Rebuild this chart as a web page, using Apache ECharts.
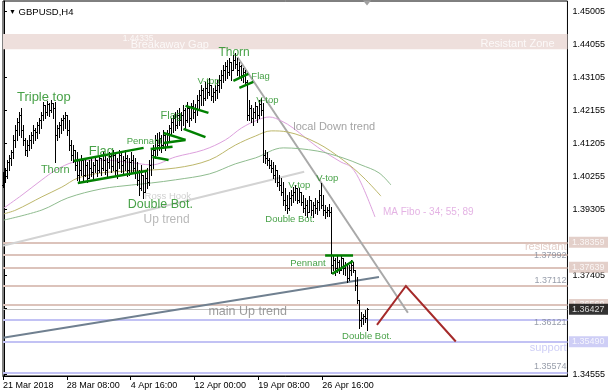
<!DOCTYPE html>
<html><head><meta charset="utf-8">
<script src="https://cdn.jsdelivr.net/npm/echarts@6/dist/echarts.min.js"></script>
<style>html,body{margin:0;padding:0;background:#fff}#c{width:608px;height:391px}</style>
</head><body><div id="c"></div>
<script>
// ---------- OHLC bars (GBPUSD H4) ----------
const barOpen = [
1.4001,1.4030,1.4044,1.4067,1.4079,1.4096,1.4131,1.4160,1.4183,1.4203,
1.4160,1.4131,1.4102,1.4116,1.4131,1.4145,1.4160,1.4154,1.4174,1.4188,
1.4203,1.4232,1.4212,1.4234,1.4217,1.4237,1.4223,1.4145,1.4165,1.4174,
1.4188,1.4194,1.4203,1.4160,1.4116,1.4088,1.4102,1.4059,1.4030,1.4044,
1.4073,1.4030,1.4059,1.4021,1.4050,1.4039,1.4059,1.4073,1.4044,1.4079,
1.4050,1.4073,1.4044,1.4067,1.4085,1.4056,1.4088,1.4044,1.4067,1.4088,
1.4059,1.4073,1.4079,1.4044,1.4067,1.4073,1.4050,1.4039,1.4016,1.3993,
1.4030,1.3981,1.4021,1.4010,1.4059,1.4088,1.4102,1.4131,1.4116,1.4137,
1.4116,1.4145,1.4125,1.4151,1.4165,1.4183,1.4194,1.4174,1.4203,1.4188,
1.4203,1.4217,1.4188,1.4223,1.4194,1.4229,1.4212,1.4223,1.4246,1.4260,
1.4275,1.4252,1.4281,1.4269,1.4289,1.4258,1.4269,1.4275,1.4289,1.4304,
1.4318,1.4332,1.4344,1.4327,1.4355,1.4332,1.4361,1.4350,1.4332,1.4344,
1.4318,1.4327,1.4298,1.4203,1.4223,1.4194,1.4212,1.4229,1.4203,1.4234,
1.4217,1.4088,1.4079,1.4073,1.4059,1.4050,1.4030,1.4044,1.4010,1.4001,
1.3981,1.3958,1.3944,1.3935,1.3964,1.3972,1.3981,1.3993,1.3958,1.3981,
1.3952,1.3935,1.3944,1.3923,1.3958,1.3929,1.3944,1.3935,1.3952,1.3972,
1.3944,1.3929,1.3923,1.3929,1.3923,1.3771,1.3785,1.3762,1.3779,1.3756,
1.3791,1.3762,1.3771,1.3733,1.3756,1.3771,1.3756,1.3713,1.3670,1.3612,
1.3618,1.3624,1.3618];
const barHigh = [
1.4039,1.4050,1.4073,1.4088,1.4102,1.4145,1.4174,1.4194,1.4212,1.4223,
1.4174,1.4137,1.4131,1.4145,1.4154,1.4174,1.4165,1.4183,1.4194,1.4212,
1.4240,1.4232,1.4243,1.4237,1.4246,1.4237,1.4240,1.4174,1.4183,1.4194,
1.4203,1.4212,1.4203,1.4188,1.4131,1.4116,1.4102,1.4096,1.4073,1.4088,
1.4073,1.4079,1.4067,1.4073,1.4079,1.4067,1.4085,1.4073,1.4088,1.4079,
1.4096,1.4085,1.4079,1.4096,1.4088,1.4102,1.4090,1.4079,1.4102,1.4093,
1.4085,1.4102,1.4088,1.4079,1.4096,1.4088,1.4079,1.4067,1.4044,1.4059,
1.4030,1.4044,1.4050,1.4073,1.4102,1.4116,1.4145,1.4151,1.4154,1.4145,
1.4160,1.4151,1.4160,1.4174,1.4194,1.4203,1.4212,1.4217,1.4223,1.4212,
1.4232,1.4223,1.4240,1.4229,1.4237,1.4246,1.4234,1.4260,1.4275,1.4289,
1.4281,1.4298,1.4304,1.4309,1.4289,1.4281,1.4289,1.4304,1.4318,1.4332,
1.4347,1.4355,1.4361,1.4367,1.4355,1.4376,1.4381,1.4367,1.4355,1.4347,
1.4338,1.4332,1.4304,1.4246,1.4232,1.4223,1.4240,1.4229,1.4246,1.4252,
1.4237,1.4102,1.4096,1.4079,1.4073,1.4067,1.4059,1.4044,1.4030,1.4021,
1.4010,1.3993,1.3972,1.3981,1.3987,1.3995,1.4001,1.3993,1.3993,1.3981,
1.3972,1.3964,1.3958,1.3969,1.3958,1.3952,1.3964,1.3958,1.3987,1.4007,
1.3972,1.3944,1.3938,1.3947,1.3938,1.3800,1.3791,1.3797,1.3785,1.3800,
1.3791,1.3779,1.3777,1.3771,1.3785,1.3779,1.3756,1.3736,1.3670,1.3635,
1.3630,1.3641,1.3647];
const barLow = [
1.3995,1.4010,1.4021,1.4044,1.4059,1.4079,1.4111,1.4131,1.4145,1.4139,
1.4116,1.4088,1.4085,1.4102,1.4108,1.4122,1.4131,1.4137,1.4151,1.4165,
1.4188,1.4194,1.4203,1.4200,1.4212,1.4194,1.4067,1.4131,1.4139,1.4151,
1.4160,1.4165,1.4145,1.4102,1.4073,1.4067,1.4044,1.4016,1.4010,1.4030,
1.4016,1.4027,1.4010,1.4021,1.4027,1.4021,1.4039,1.4027,1.4039,1.4030,
1.4044,1.4033,1.4021,1.4050,1.4039,1.4044,1.4030,1.4021,1.4050,1.4039,
1.4033,1.4044,1.4027,1.4030,1.4039,1.4039,1.4021,1.4001,1.3972,1.3987,
1.3964,1.3981,1.3993,1.4001,1.4030,1.4050,1.4079,1.4088,1.4102,1.4096,
1.4108,1.4102,1.4116,1.4131,1.4145,1.4154,1.4160,1.4165,1.4174,1.4160,
1.4174,1.4165,1.4183,1.4171,1.4188,1.4194,1.4183,1.4203,1.4217,1.4232,
1.4232,1.4246,1.4252,1.4260,1.4246,1.4240,1.4246,1.4252,1.4269,1.4281,
1.4298,1.4304,1.4309,1.4318,1.4304,1.4332,1.4338,1.4318,1.4309,1.4304,
1.4298,1.4289,1.4188,1.4188,1.4183,1.4174,1.4194,1.4183,1.4194,1.4203,
1.4067,1.4065,1.4059,1.4050,1.4039,1.4021,1.4010,1.3998,1.3987,1.3972,
1.3944,1.3929,1.3921,1.3929,1.3944,1.3952,1.3958,1.3949,1.3952,1.3944,
1.3923,1.3915,1.3909,1.3923,1.3915,1.3909,1.3921,1.3918,1.3929,1.3935,
1.3915,1.3906,1.3912,1.3912,1.3748,1.3756,1.3742,1.3751,1.3748,1.3756,
1.3745,1.3742,1.3722,1.3728,1.3742,1.3751,1.3699,1.3661,1.3589,1.3595,
1.3601,1.3607,1.3584];
const barClose = [
1.4030,1.4044,1.4067,1.4079,1.4096,1.4131,1.4160,1.4183,1.4203,1.4160,
1.4131,1.4102,1.4116,1.4131,1.4145,1.4160,1.4154,1.4174,1.4188,1.4203,
1.4232,1.4212,1.4234,1.4217,1.4237,1.4223,1.4145,1.4165,1.4174,1.4188,
1.4194,1.4203,1.4160,1.4116,1.4088,1.4102,1.4059,1.4030,1.4044,1.4073,
1.4030,1.4059,1.4021,1.4050,1.4039,1.4059,1.4073,1.4044,1.4079,1.4050,
1.4073,1.4044,1.4067,1.4085,1.4056,1.4088,1.4044,1.4067,1.4088,1.4059,
1.4073,1.4079,1.4044,1.4067,1.4073,1.4050,1.4039,1.4016,1.3993,1.4039,
1.3981,1.4021,1.4010,1.4059,1.4088,1.4102,1.4131,1.4116,1.4137,1.4116,
1.4145,1.4125,1.4151,1.4165,1.4183,1.4194,1.4174,1.4203,1.4188,1.4203,
1.4217,1.4188,1.4223,1.4194,1.4229,1.4212,1.4223,1.4246,1.4260,1.4275,
1.4252,1.4281,1.4269,1.4289,1.4258,1.4269,1.4275,1.4289,1.4304,1.4318,
1.4332,1.4344,1.4327,1.4355,1.4332,1.4361,1.4350,1.4332,1.4344,1.4318,
1.4327,1.4298,1.4203,1.4223,1.4194,1.4212,1.4229,1.4203,1.4234,1.4217,
1.4088,1.4079,1.4073,1.4059,1.4050,1.4030,1.4044,1.4010,1.4001,1.3981,
1.3958,1.3944,1.3935,1.3964,1.3972,1.3981,1.3993,1.3958,1.3981,1.3952,
1.3935,1.3944,1.3923,1.3958,1.3929,1.3944,1.3935,1.3952,1.3972,1.3944,
1.3929,1.3923,1.3929,1.3923,1.3771,1.3785,1.3762,1.3779,1.3756,1.3791,
1.3762,1.3771,1.3733,1.3756,1.3771,1.3756,1.3713,1.3670,1.3612,1.3618,
1.3624,1.3618,1.3643];

// ---------- axes ----------
const xSlots = 283;                       // visible H4 slots incl. chart shift
const xTickIdx = [0, 32, 64, 96, 128, 160];
const xTickLabels = ['21 Mar 2018','28 Mar 08:00','4 Apr 16:00','12 Apr 00:00','19 Apr 08:00','26 Apr 16:00'];
const yTicks = [1.45005,1.44055,1.43105,1.42155,1.41205,1.40255,1.39305,1.38355,1.37405,1.36455,1.35505,1.34555];
const yMin = 1.34506, yMax = 1.45313;

// ---------- MA Fibo 34 / 55 / 89 (read at sample bars) ----------
const ma34Idx = [0,9,19,26,35,49,62,74,86,100,111,119,127,133,139,145,157,169,174,179,186];
const ma34Val = [1.3935,1.3972,1.4016,1.4044,1.4067,1.4073,1.4067,1.4059,1.4082,1.4102,1.4131,1.4165,1.4188,1.4197,1.4186,1.4165,1.4111,1.4067,1.4053,1.4007,1.3909];
const ma55Idx = [0,6,19,29,37,49,65,86,103,116,126,134,142,157,170,180,189];
const ma55Val = [1.3918,1.3929,1.3967,1.3995,1.4021,1.4036,1.4042,1.4050,1.4073,1.4116,1.4142,1.4157,1.4154,1.4122,1.4073,1.4024,1.3969];
const ma89Idx = [0,19,32,49,64,74,86,103,116,126,140,157,170,179,188,194];
const ma89Val = [1.3900,1.3929,1.3964,1.3990,1.4001,1.4007,1.4016,1.4033,1.4062,1.4079,1.4108,1.4099,1.4079,1.4059,1.4036,1.4001];

// ---------- levels ----------
const resistLevels = [1.38359, 1.37992, 1.37639, 1.37112, 1.36569];
const resistBoxed  = [1.38359, 1.37639, 1.36569];
const supportLevels = [1.36121, 1.35490, 1.34600];
const supportBoxed = [1.35490];
const bidPrice = 1.36427;
const zoneLow = 1.4392, zoneHigh = 1.4436;

// ---------- trend lines [idx, price] ----------
const localDownTrend = [[117, 1.4370], [202.5, 1.3633]];
const upTrend = [[-0.5, 1.3826], [150.5, 1.4039]];
const mainUpTrend = [[-0.5, 1.3561], [188, 1.3736]];
const projection = [[187, 1.3598], [201.5, 1.3710], [226.5, 1.3550]];

// ---------- pattern segments [idx1, p1, idx2, p2] ----------
const patternSegs = [
  [35, 1.4070, 70, 1.4108], [37, 1.4007, 72, 1.4042],          // Flag
  [73.5, 1.4105, 84.5, 1.4111], [74.5, 1.4082, 82.5, 1.4073],  // Pennant
  [80, 1.4151, 91, 1.4131], [80, 1.4122, 91, 1.4131],          // small pennant
  [91, 1.4229, 102.5, 1.4209], [90, 1.4163, 101, 1.4139],      // Flag 2
  [115, 1.4301, 122.5, 1.4321], [118, 1.4281, 125, 1.4298],    // Flag near Thorn
  [161, 1.3800, 175, 1.3800], [164.5, 1.3745, 175, 1.3782]     // Pennant bottom
];

// ---------- annotations ----------
const annText = ['Triple top','Thorn','Flag','Pennant','Flag','V-top','Thorn','Flag','V-top',
  'local Down trend','Ross Hook','Double Bot.','Up trend','V-top','V-top','Double Bot.',
  'MA Fibo - 34; 55; 89','Pennant','main Up trend','Double Bot.',
  'resistant','support','1.37992','1.37112','1.36121','1.35574',
  '1.44335','Breakaway Gap','Resistant Zone'];
const annIdx = [6.5,18.5,42.5,61.5,78.5,97,107.5,124,126.5,
  145,70.5,62,70,142.5,156.5,131,
  190,143.5,102.5,169.5,
  282,282,282,282,282,282,
  59.5,63.5,276];
const annPrice = [1.4252,1.4044,1.4099,1.4128,1.4200,1.4301,1.4381,1.4315,1.4246,
  1.4168,1.3969,1.3944,1.3900,1.4001,1.4021,1.3903,
  1.3923,1.3774,1.3635,1.3566,
  1.3823,1.3532,1.3797,1.3725,1.3604,1.3477,
  1.4423,1.4406,1.4407];
const annKind = ['g13','g11','g13','g9','g11','g9','g12','g9','g9',
  'grey11','ross','g12b','up12','g9','g9','g9',
  'ma','g9','main','g9',
  'res','sup','lvl','lvl','lvl','lvl',
  'wsmall','w11','w11r'];

const FONT = "'Liberation Sans', Arial, sans-serif";
const GREEN = '#198A19';
const ROSY = '#DCC3BB', BLUE = '#C2C2F4';
const kindStyle = {
  g13:{fontSize:13,color:GREEN}, g12:{fontSize:12,color:GREEN}, g12b:{fontSize:12.5,color:GREEN},
  g11:{fontSize:11,color:GREEN}, g9:{fontSize:9.5,color:GREEN},
  grey11:{fontSize:11,color:'#8C8C8C'}, ross:{fontSize:9.5,color:'#C4C4C4'},
  up12:{fontSize:12,color:'#A8A8A8'}, ma:{fontSize:10,color:'#DDA0DD'},
  main:{fontSize:12.5,color:'#858585'},
  res:{fontSize:11,color:ROSY,align:'right'}, sup:{fontSize:11,color:BLUE,align:'right'},
  lvl:{fontSize:9,color:'#7E8696',align:'right'},
  wsmall:{fontSize:8.5,color:'#FFFFFF'}, w11:{fontSize:11,color:'#FFFFFF'},
  w11r:{fontSize:11,color:'#FFFFFF',align:'right'}
};

// ---------- build ----------
const xLo = -0.5, xHi = xSlots - 0.5;
const barData = barOpen.map((o, i) => [i, o, barClose[i], barLow[i], barHigh[i]]);
const pair = (ix, v) => ix.map((x, k) => [x, v[k]]);

function renderBar(params, api) {
  const i = api.value(0);
  const pH = api.coord([i, api.value(4)]);
  const pL = api.coord([i, api.value(3)]);
  const pO = api.coord([i, api.value(1)]);
  const pC = api.coord([i, api.value(2)]);
  const x = Math.round(pH[0] - 0.5);
  const yH = Math.round(pH[1]), yL = Math.round(pL[1]);
  const st = {fill:'#000'};
  return {type:'group', children:[
    {type:'rect', shape:{x:x, y:yH, width:1, height:Math.max(1, yL - yH + 1)}, style:st},
    {type:'rect', shape:{x:x - 1, y:Math.round(pO[1]), width:1, height:1}, style:st},
    {type:'rect', shape:{x:x + 1, y:Math.round(pC[1]), width:1, height:1}, style:st}
  ]};
}

// horizontal level lines drawn through the axes
const levelSeg = [];
resistLevels.forEach(v => levelSeg.push({coords:[[xLo, v], [xHi, v]], lineStyle:{color:ROSY, width:2}}));
supportLevels.forEach(v => levelSeg.push({coords:[[xLo, v], [xHi, v]], lineStyle:{color:BLUE, width:2}}));
levelSeg.push({coords:[[xLo, bidPrice], [xHi, bidPrice]], lineStyle:{color:'#C0C0C0', width:1}});

// price boxes on the right scale
const boxes = [];
resistBoxed.forEach(v => boxes.push({v:v, bg:ROSY}));
boxes.push({v:bidPrice, bg:'#000'});
supportBoxed.forEach(v => boxes.push({v:v, bg:BLUE}));
const boxData = boxes.map(b => ({value:[xHi, b.v], label:{show:true, formatter:b.v.toFixed(5), position:'right', distance:1,
  color:'#fff', backgroundColor:b.bg, padding:[1,4,0,3], fontSize:9, lineHeight:10, fontFamily:FONT}}));
// scale labels that the price boxes cover are not printed
const yLabelValues = yTicks.filter(t => !boxes.some(b => Math.abs(b.v - t) < 0.0004));

const annData = annText.map((t, k) => {
  const s = kindStyle[annKind[k]];
  return {value:[annIdx[k], annPrice[k]], label:{show:true, formatter:t, position:'inside',
    align: s.align || 'left', verticalAlign:'middle', fontSize:s.fontSize, color:s.color, fontFamily:FONT}};
});

const lineSeg = (coords, color, width, z) => ({type:'lines', coordinateSystem:'cartesian2d', silent:true, z:z,
  polyline:true, data:[{coords:coords}], lineStyle:{color:color, width:width, opacity:1}, effect:{show:false}});

const option = {
  animation:false,
  backgroundColor:'#fff',
  title:{text:'{t|▼} GBPUSD,H4', left:4, top:2,
    textStyle:{fontSize:9.5, fontWeight:'normal', color:'#000', fontFamily:FONT, rich:{t:{fontSize:7, color:'#000'}}}},
  grid:{left:2, right:40, top:1, bottom:15, show:true, borderColor:'#000', borderWidth:1, backgroundColor:'#fff'},
  xAxis:{type:'value', min:xLo, max:xHi,
    axisLine:{show:true, onZero:false, lineStyle:{color:'#000', width:1}},
    axisTick:{show:true, length:4, customValues: xTickIdx.map(i => i - 0.5), lineStyle:{color:'#000'}},
    axisLabel:{show:true, customValues: xTickIdx.map(i => i - 0.5), align:'left', margin:5, fontSize:9, color:'#000', fontFamily:FONT,
      formatter: v => xTickLabels[xTickIdx.indexOf(Math.round(v + 0.5))] || ''},
    splitLine:{show:false}},
  yAxis:{type:'value', position:'right', min:yMin, max:yMax,
    axisLine:{show:true, lineStyle:{color:'#000', width:1}},
    axisTick:{show:true, length:3, customValues:yTicks, lineStyle:{color:'#000'}},
    axisLabel:{show:true, customValues:yLabelValues, margin:5, fontSize:9, color:'#000', fontFamily:FONT,
      formatter: v => v.toFixed(5)},
    splitLine:{show:false}},
  series:[
    {type:'custom', name:'zone', silent:true, z:1, data:[[xLo, zoneLow, xHi, zoneHigh]],
      encode:{x:[0,2], y:[1,3]},
      renderItem:(p, api) => {
        const a = api.coord([api.value(0), api.value(3)]);
        const b = api.coord([api.value(2), api.value(1)]);
        return {type:'rect', shape:{x:a[0], y:a[1], width:b[0]-a[0], height:b[1]-a[1]}, style:{fill:'#EEDFDC'}};
      }},
    {type:'lines', coordinateSystem:'cartesian2d', silent:true, z:1, data:levelSeg, lineStyle:{opacity:1}},
    {type:'line', name:'MA34', data:pair(ma34Idx, ma34Val), smooth:0.35, showSymbol:false, symbol:'none', z:2, silent:true,
      lineStyle:{color:'#DDA0DD', width:1}},
    {type:'line', name:'MA55', data:pair(ma55Idx, ma55Val), smooth:0.35, showSymbol:false, symbol:'none', z:2, silent:true,
      lineStyle:{color:'#BDB76B', width:1}},
    {type:'line', name:'MA89', data:pair(ma89Idx, ma89Val), smooth:0.35, showSymbol:false, symbol:'none', z:2, silent:true,
      lineStyle:{color:'#8FBC8F', width:1}},
    lineSeg(upTrend, '#D3D3D3', 2, 2),
    lineSeg(mainUpTrend, '#708090', 2, 2),
    lineSeg(localDownTrend, '#A9A9A9', 2, 2),
    lineSeg(projection, '#A52A2A', 2, 2),
    {type:'custom', name:'GBPUSD', renderItem:renderBar, data:barData, z:3, silent:true,
      encode:{x:0, y:[1,2,3,4]}},
    {type:'lines', coordinateSystem:'cartesian2d', silent:true, z:4,
      data: patternSegs.map(s => ({coords:[[s[0], s[1]], [s[2], s[3]]]})),
      lineStyle:{color:'#008000', width:2.5, opacity:1}},
    {type:'scatter', name:'notes', data:annData, symbol:'rect', symbolSize:1, z:5, silent:true,
      itemStyle:{color:'rgba(0,0,0,0)'},
      markPoint:{silent:true, symbol:'triangle', symbolRotate:180, symbolSize:[8,5], symbolOffset:[0,2],
        itemStyle:{color:'#A0A0A0'}, label:{show:false}, data:[{coord:[182, yMax]}]}},
    {type:'scatter', name:'priceBoxes', data:boxData, symbol:'rect', symbolSize:1, z:6, silent:true, clip:false,
      itemStyle:{color:'rgba(0,0,0,0)'}}
  ]
};
const chart = echarts.init(document.getElementById('c'), null, {renderer:'canvas'});
chart.setOption(option);
</script></body></html>
